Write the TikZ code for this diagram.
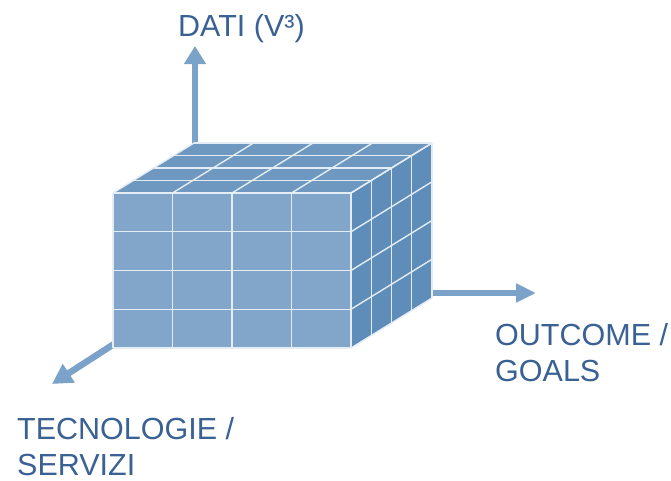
\documentclass[tikz,border=0pt]{standalone}
\usepackage{fontspec}
\setmainfont{Liberation Sans}
\usetikzlibrary{arrows.meta}
\definecolor{textblue}{HTML}{3A6194}
\definecolor{arrowblue}{HTML}{7BA2C8}
\definecolor{frontc}{HTML}{82A6CA}
\definecolor{topc}{HTML}{6E98C0}
\definecolor{rightc}{HTML}{5E8DBA}
\definecolor{gridc}{HTML}{E4ECF5}
\tikzset{
  axisarrow/.style={draw=arrowblue, line width=6.5pt, -{Triangle[width=21pt,length=18pt]}, color=arrowblue},
  gridline/.style={draw=gridc, line width=1.4pt},
  label/.style={inner sep=0pt, text=textblue, align=left, anchor=base west, font=\fontsize{30.5}{36}\selectfont}
}
\begin{document}
\begin{tikzpicture}[x=1pt,y=-1pt]
\useasboundingbox (0,0) rectangle (671,480);
% corners
\def\xa{113}\def\xb{351}\def\ya{193}\def\yb{348}\def\dx{81}\def\dy{-50}
\coordinate (ftl) at (\xa,\ya);
\coordinate (ftr) at (\xb,\ya);
\coordinate (fbl) at (\xa,\yb);
\coordinate (fbr) at (\xb,\yb);
\coordinate (btl) at (\xa+\dx,\ya+\dy);
\coordinate (btr) at (\xb+\dx,\ya+\dy);
\coordinate (bbr) at (\xb+\dx,\yb+\dy);
% axes arrows
\coordinate (upstart) at (195,146);
\coordinate (uptip) at (195,46);
\coordinate (rstart) at (428,293);
\coordinate (rtip) at (536,293);
\coordinate (dstart) at (114,344);
\coordinate (dtip) at (52,384);
\draw[axisarrow] (upstart) -- (uptip);
\draw[axisarrow, -{Triangle[width=18pt,length=20pt]}] (rstart) -- (rtip);
\draw[axisarrow, -{Triangle[width=21pt,length=20pt]}] (dstart) -- (dtip);
% faces
\fill[frontc] (ftl) -- (ftr) -- (fbr) -- (fbl) -- cycle;
\fill[topc] (ftl) -- (ftr) -- (btr) -- (btl) -- cycle;
\fill[rightc] (ftr) -- (btr) -- (bbr) -- (fbr) -- cycle;
% front grid
\foreach \i in {0,1,2,3,4}{
  \draw[gridline] ({\xa+\i*(\xb-\xa)/4},\ya) -- ({\xa+\i*(\xb-\xa)/4},\yb);
  \draw[gridline] (\xa,{\ya+\i*(\yb-\ya)/4}) -- (\xb,{\ya+\i*(\yb-\ya)/4});
}
% top grid
\foreach \i in {0,1,2,3,4}{
  \draw[gridline] ({\xa+\i*(\xb-\xa)/4},\ya) -- ({\xa+\i*(\xb-\xa)/4+\dx},{\ya+\dy});
  \draw[gridline] ({\xa+\i*\dx/4},{\ya+\i*\dy/4}) -- ({\xb+\i*\dx/4},{\ya+\i*\dy/4});
}
% right grid
\foreach \i in {0,1,2,3,4}{
  \draw[gridline] ({\xb+\i*\dx/4},{\ya+\i*\dy/4}) -- ({\xb+\i*\dx/4},{\yb+\i*\dy/4});
  \draw[gridline] (\xb,{\ya+\i*(\yb-\ya)/4}) -- ({\xb+\dx},{\ya+\i*(\yb-\ya)/4+\dy});
}
% labels
\node[label] (dati) at (178,36) {DATI (V³)};
\node[label] (outcome) at (495,381) {OUTCOME /\\GOALS};
\node[label] (tecno) at (17,475) {TECNOLOGIE /\\SERVIZI};
\end{tikzpicture}
\end{document}
